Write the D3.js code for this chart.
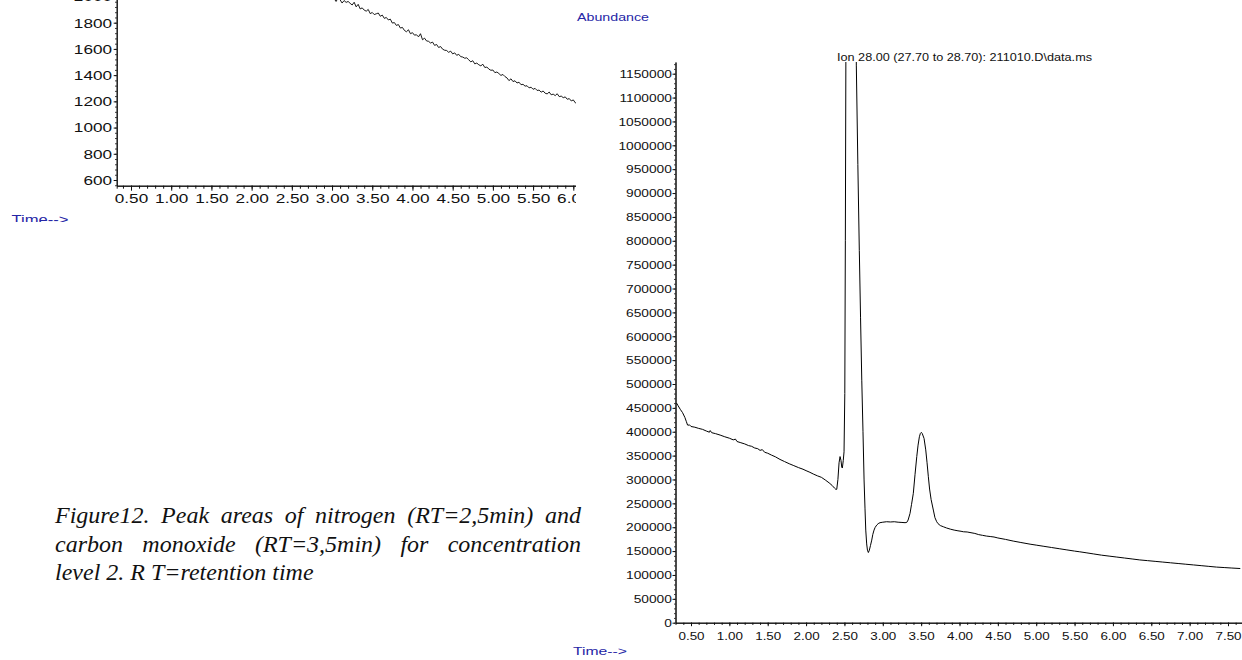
<!DOCTYPE html>
<html>
<head>
<meta charset="utf-8">
<script src="https://cdn.jsdelivr.net/npm/d3@7"></script>
<style>
  html, body { margin: 0; padding: 0; background: #fff; }
  svg { display: block; }
</style>
</head>
<body>
<svg id="fig" width="1242" height="660"></svg>
<script>
// ---------------- data ----------------
// Upper-left trace (tail of a TIC, abundance counts vs. retention time, min)
const leftTimes = [
  2.900, 2.925, 2.950, 2.975, 3.000, 3.025, 3.050, 3.075, 3.100, 3.125, 3.150, 3.175,
  3.200, 3.225, 3.250, 3.275, 3.300, 3.325, 3.350, 3.375, 3.400, 3.425, 3.450, 3.475,
  3.500, 3.525, 3.550, 3.575, 3.600, 3.625, 3.650, 3.675, 3.700, 3.725, 3.750, 3.775,
  3.800, 3.825, 3.850, 3.875, 3.900, 3.925, 3.950, 3.975, 4.000, 4.025, 4.050, 4.075,
  4.100, 4.125, 4.150, 4.175, 4.200, 4.225, 4.250, 4.275, 4.300, 4.325, 4.350, 4.375,
  4.400, 4.425, 4.450, 4.475, 4.500, 4.525, 4.550, 4.575, 4.600, 4.625, 4.650, 4.675,
  4.700, 4.725, 4.750, 4.775, 4.800, 4.825, 4.850, 4.875, 4.900, 4.925, 4.950, 4.975,
  5.000, 5.025, 5.050, 5.075, 5.100, 5.125, 5.150, 5.175, 5.200, 5.225, 5.250, 5.275,
  5.300, 5.325, 5.350, 5.375, 5.400, 5.425, 5.450, 5.475, 5.500, 5.525, 5.550, 5.575,
  5.600, 5.625, 5.650, 5.675, 5.700, 5.725, 5.750, 5.775, 5.800, 5.825, 5.850, 5.875,
  5.900, 5.925, 5.950, 5.975, 6.000, 6.025, 6.050
];
const leftCounts = [
  2024, 2004, 1993, 2011, 1979, 1984, 1962, 1988, 1975, 1950, 1969, 1955,
  1962, 1948, 1935, 1956, 1921, 1940, 1905, 1913, 1896, 1888, 1901, 1869,
  1878, 1862, 1868, 1874, 1849, 1858, 1833, 1840, 1821, 1827, 1797, 1801,
  1779, 1786, 1759, 1764, 1741, 1731, 1746, 1716, 1724, 1705, 1708, 1692,
  1716, 1670, 1682, 1661, 1658, 1645, 1652, 1627, 1634, 1611, 1618, 1598,
  1590, 1588, 1574, 1583, 1562, 1570, 1551, 1559, 1541, 1538, 1529, 1532,
  1517, 1501, 1510, 1486, 1492, 1479, 1471, 1483, 1458, 1462, 1446, 1437,
  1439, 1419, 1424, 1412, 1398, 1405, 1389, 1379, 1358, 1372, 1351, 1357,
  1340, 1346, 1327, 1330, 1316, 1319, 1303, 1308, 1292, 1299, 1283, 1286,
  1270, 1279, 1262, 1257, 1271, 1250, 1255, 1244, 1258, 1236, 1240, 1228,
  1234, 1216, 1221, 1203, 1211, 1189, 1181
];
const leftXTicks = [0.5, 1.0, 1.5, 2.0, 2.5, 3.0, 3.5, 4.0, 4.5, 5.0, 5.5, 6.0];
const leftYTicks = [600, 800, 1000, 1200, 1400, 1600, 1800, 2000];

// Ion 28 extracted-ion chromatogram: N2 (~2.5 min) and CO (~3.5 min)
const ionTimes = [
  0.312, 0.33, 0.36, 0.39, 0.42, 0.44, 0.455, 0.46, 0.48, 0.50, 0.55, 0.60, 0.65, 0.70,
  0.74, 0.75, 0.77, 0.82, 0.88, 0.94, 1.00, 1.05, 1.08, 1.10, 1.15, 1.20, 1.25, 1.29,
  1.33, 1.37, 1.40, 1.43, 1.46, 1.50, 1.55, 1.60, 1.66, 1.72, 1.78, 1.84, 1.90, 1.96,
  2.00, 2.05, 2.10, 2.15, 2.20, 2.25, 2.30, 2.34, 2.37, 2.39, 2.40, 2.415, 2.43, 2.443,
  2.455, 2.465, 2.473, 2.485, 2.495, 2.505, 2.512, 2.52, 2.55, 2.585, 2.62, 2.655,
  2.675, 2.694, 2.71, 2.726, 2.742, 2.756, 2.768, 2.778, 2.79, 2.80, 2.812, 2.825,
  2.84, 2.856, 2.87, 2.886, 2.90, 2.921, 2.94, 2.964, 3.00, 3.05, 3.10, 3.15, 3.20,
  3.25, 3.29, 3.312, 3.33, 3.355, 3.375, 3.398, 3.42, 3.443, 3.46, 3.477, 3.49, 3.503,
  3.515, 3.538, 3.56, 3.577, 3.594, 3.61, 3.63, 3.659, 3.68, 3.703, 3.72, 3.75, 3.789,
  3.83, 3.88, 3.93, 3.98, 4.02, 4.05, 4.10, 4.15, 4.20, 4.25, 4.30, 4.35, 4.40, 4.45,
  4.50, 4.60, 4.70, 4.80, 4.92, 5.00, 5.10, 5.20, 5.30, 5.40, 5.50, 5.568, 5.65, 5.75,
  5.85, 5.95, 6.05, 6.15, 6.25, 6.35, 6.45, 6.55, 6.65, 6.75, 6.85, 6.95, 7.05, 7.15,
  7.25, 7.35, 7.45, 7.55, 7.66
];
const ionAbundance = [
  460000, 455000, 447000, 440000, 430000, 421000, 414000, 413500, 414500, 411000, 409500, 407000, 405000, 401500,
  399000, 402500, 398000, 396000, 393000, 389500, 386500, 383000, 384500, 379500, 377000, 374500, 371000, 369500,
  366000, 364500, 361000, 362500, 357000, 355000, 351000, 347500, 342000, 337500, 333000, 329000, 325000, 321500,
  318500, 315000, 311000, 307500, 304500, 299000, 293000, 287500, 282000, 279000, 279500, 300000, 335000, 348000,
  340000, 326000, 324000, 340000, 358000, 480000, 800000, 1250000, 2200000, 2600000, 2100000, 1168000,
  960000, 780000, 640000, 508000, 400000, 299000, 240000, 194000, 165000, 152000, 147000, 152000,
  162000, 173000, 185000, 194000, 199500, 204500, 207500, 209500, 210500, 211500, 211000, 211500, 210500,
  210000, 209500, 210000, 215000, 229000, 248000, 271000, 310000, 348000, 372000, 389500, 396500, 398700,
  396000, 386000, 362000, 335000, 305700, 280000, 258000, 236000, 220000, 211500, 207500, 203500, 201000,
  198500, 196000, 194000, 192500, 191500, 190500, 190000, 188500, 187000, 184500, 183000, 181500, 180500, 179500,
  177500, 174500, 171000, 168000, 164500, 162500, 160000, 157500, 155000, 152500, 150000, 148500, 146500, 144000,
  141500, 139500, 137500, 135500, 133500, 131500, 130000, 128500, 127000, 125500, 124000, 122500, 121000, 119500,
  118000, 116500, 115500, 114500, 113500
];
const ionXTicks = [0.5, 1.0, 1.5, 2.0, 2.5, 3.0, 3.5, 4.0, 4.5, 5.0, 5.5, 6.0, 6.5, 7.0, 7.5];
const ionYTicks = [0, 50000, 100000, 150000, 200000, 250000, 300000, 350000, 400000, 450000,
  500000, 550000, 600000, 650000, 700000, 750000, 800000, 850000, 900000, 950000,
  1000000, 1050000, 1100000, 1150000];

const ionTitle = "Ion  28.00 (27.70 to 28.70): 211010.D\\data.ms";
const captionLines = [
  "Figure12. Peak areas of nitrogen (RT=2,5min) and",
  "carbon monoxide (RT=3,5min) for concentration",
  "level 2. R T=retention time"
];

// ---------------- drawing ----------------
const svg = d3.select("#fig");
const BLUE = "#2626a6";
const SANS = "'Liberation Sans', Arial, sans-serif";

const defs = svg.append("defs");
defs.append("clipPath").attr("id", "leftPanel")
  .append("rect").attr("x", 0).attr("y", 0).attr("width", 576).attr("height", 222);
defs.append("clipPath").attr("id", "ionPlot")
  .append("rect").attr("x", 675).attr("y", 62).attr("width", 570).attr("height", 562);

// stretch tick labels horizontally (wide instrument font)
function styleTicks(g, size, sx, orient, offset) {
  g.selectAll(".tick text")
    .attr("font-family", SANS)
    .attr("font-size", size)
    .attr("fill", "#111")
    .each(function () {
      const t = d3.select(this);
      if (orient === "left") {
        t.attr("x", -offset / sx).attr("dy", "0.34em");
      } else {
        t.attr("y", offset).attr("dy", 0);
      }
      t.attr("transform", `scale(${sx},1)`);
    });
  g.selectAll(".tick line").attr("stroke", "#111");
  g.select(".domain").attr("stroke", "#111");
}

// ---- upper-left panel ----
const L = svg.append("g").attr("clip-path", "url(#leftPanel)");
const xL0 = d3.scaleLinear().domain([0.5, 6.0]).range([131, 573.3]);
const yL0 = d3.scaleLinear().domain([600, 1800]).range([180, 22.7]);
const xL = d3.scaleLinear().domain([xL0.invert(116.7), xL0.invert(576)]).range([116.7, 576]);
const yL = d3.scaleLinear().domain([yL0.invert(185.7), yL0.invert(-40)]).range([185.7, -40]);

const lxMinor = d3.range(4, 61).map(d => d / 10);
L.append("g").attr("transform", "translate(0,185.7)")
  .call(d3.axisBottom(xL).tickValues(lxMinor).tickSize(3).tickFormat(""))
  .call(g => { g.selectAll("line").attr("stroke", "#111"); g.select(".domain").attr("stroke", "#111"); });
L.append("g").attr("transform", "translate(0,185.7)")
  .call(d3.axisBottom(xL).tickValues(leftXTicks).tickSize(5).tickSizeOuter(0).tickFormat(d3.format(".2f")))
  .call(g => styleTicks(g, 13, 1.32, "bottom", 17.5));

const lyMinor = d3.range(560, 2201, 40);
L.append("g").attr("transform", "translate(116.7,0)")
  .call(d3.axisLeft(yL).tickValues(lyMinor).tickSize(1.5).tickFormat("").tickSizeOuter(0))
  .call(g => { g.selectAll("line").attr("stroke", "#111"); g.select(".domain").attr("stroke", "#111"); });
L.append("g").attr("transform", "translate(116.7,0)")
  .call(d3.axisLeft(yL).tickValues(leftYTicks).tickSize(3).tickSizeOuter(0).tickFormat(d3.format("d")))
  .call(g => styleTicks(g, 13, 1.32, "left", 4.7));

L.append("path")
  .datum(leftTimes.map((t, i) => [t, leftCounts[i]]))
  .attr("fill", "none").attr("stroke", "#000").attr("stroke-width", 0.9)
  .attr("stroke-linejoin", "round")
  .attr("d", d3.line().x(d => xL(d[0])).y(d => yL(d[1])));

L.append("text").attr("x", 11.5).attr("y", 224)
  .attr("font-family", SANS).attr("font-size", 13).attr("fill", BLUE)
  .attr("textLength", 57).attr("lengthAdjust", "spacingAndGlyphs")
  .text("Time-->");

// ---- right panel: ion 28 chromatogram ----
const R = svg.append("g");
const xR0 = d3.scaleLinear().domain([0.5, 7.5]).range([691, 1228]);
const yR0 = d3.scaleLinear().domain([0, 1150000]).range([622.7, 73.7]);
const xR = d3.scaleLinear().domain([xR0.invert(675.5), xR0.invert(1250)]).range([675.5, 1250]);
const yR = d3.scaleLinear().domain([0, yR0.invert(62)]).range([622.7, 62]);

const rxMinor = d3.range(4, 78).map(d => d / 10);
R.append("g").attr("transform", "translate(0,622.7)")
  .call(d3.axisBottom(xR).tickValues(rxMinor).tickSize(2.2).tickFormat(""))
  .call(g => { g.selectAll("line").attr("stroke", "#111"); g.select(".domain").attr("stroke", "#111"); });
R.append("g").attr("transform", "translate(0,622.7)")
  .call(d3.axisBottom(xR).tickValues(ionXTicks).tickSize(3.5).tickSizeOuter(0).tickFormat(d3.format(".2f")))
  .call(g => styleTicks(g, 11, 1.22, "bottom", 17.3));

const ryMinor = d3.range(0, 1170001, 10000);
R.append("g").attr("transform", "translate(675.5,0)")
  .call(d3.axisLeft(yR).tickValues(ryMinor).tickSize(1.3).tickFormat("").tickSizeOuter(0))
  .call(g => { g.selectAll("line").attr("stroke", "#111"); g.select(".domain").attr("stroke", "#111"); });
R.append("g").attr("transform", "translate(675.5,0)")
  .call(d3.axisLeft(yR).tickValues(ionYTicks).tickSize(3).tickSizeOuter(0).tickFormat(d3.format("d")))
  .call(g => styleTicks(g, 11, 1.25, "left", 3.6));

R.append("path")
  .datum(ionTimes.map((t, i) => [t, ionAbundance[i]]))
  .attr("clip-path", "url(#ionPlot)")
  .attr("fill", "none").attr("stroke", "#000").attr("stroke-width", 1)
  .attr("stroke-linejoin", "round")
  .attr("d", d3.line().x(d => xR(d[0])).y(d => yR(d[1])));

R.append("text").attr("x", 837).attr("y", 61)
  .attr("font-family", SANS).attr("font-size", 11).attr("fill", "#111")
  .attr("textLength", 255).attr("lengthAdjust", "spacingAndGlyphs")
  .text(ionTitle);

svg.append("text").attr("x", 577).attr("y", 21)
  .attr("font-family", SANS).attr("font-size", 11).attr("fill", BLUE)
  .attr("textLength", 72).attr("lengthAdjust", "spacingAndGlyphs")
  .text("Abundance");

svg.append("text").attr("x", 573).attr("y", 655)
  .attr("font-family", SANS).attr("font-size", 11).attr("fill", BLUE)
  .attr("textLength", 54).attr("lengthAdjust", "spacingAndGlyphs")
  .text("Time-->");

// ---- caption (justified first two lines) ----
const capG = svg.append("g")
  .attr("font-family", "'Liberation Serif', 'Times New Roman', serif")
  .attr("font-style", "italic").attr("font-size", 24).attr("fill", "#111");
const capX = 55, capW = 526, capBase = [523, 551.5, 580];
captionLines.forEach((line, i) => {
  const t = capG.append("text").attr("x", capX).attr("y", capBase[i])
    .attr("xml:space", "preserve").text(line);
  if (i < captionLines.length - 1) {
    const natural = t.node().getComputedTextLength();
    const gaps = (line.match(/ /g) || []).length;
    t.attr("word-spacing", (capW - natural) / gaps);
  }
});
</script>
</body>
</html>
